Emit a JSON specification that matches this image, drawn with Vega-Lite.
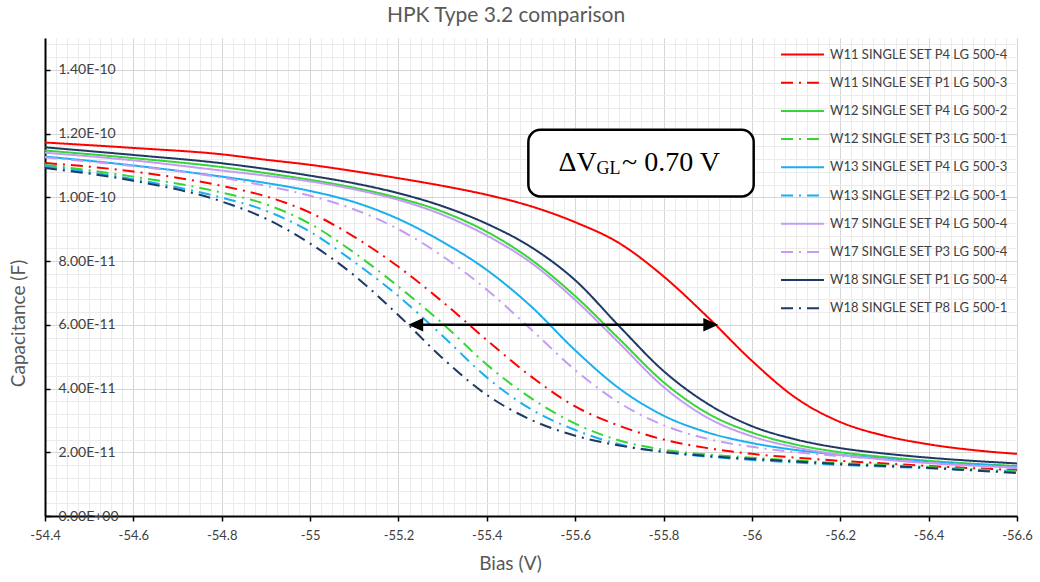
{
  "$schema": "https://vega.github.io/schema/vega-lite/v6.json",
  "width": 972,
  "height": 478,
  "autosize": {"type": "none"},
  "padding": {"left": 45, "top": 38, "right": 23, "bottom": 66},
  "background": "white",
  "title": {"text": "HPK Type 3.2 comparison", "font": "Lato", "fontSize": 21, "fontWeight": "normal", "color": "#595959", "anchor": "middle", "dx": -25, "offset": -5, "baseline": "alphabetic"},
  "config": {
    "view": {"stroke": null},
    "legend": {"orient": "none", "legendX": 743, "legendY": 2, "title": null, "padding": 0, "symbolType": "M-1.635,0H1.635", "symbolSize": 692, "symbolStrokeWidth": 2, "labelFont": "Lato", "labelFontSize": 13, "labelColor": "#404040", "labelOffset": 13, "labelLimit": 300, "rowPadding": 6.2}
  },
  "datasets": {
    "curves": [
      {"s": "W11 SINGLE SET P4 LG 500-4", "v": -54.4, "c": 11.72e-11},
      {"s": "W11 SINGLE SET P4 LG 500-4", "v": -54.6, "c": 11.55e-11},
      {"s": "W11 SINGLE SET P4 LG 500-4", "v": -54.8, "c": 11.35e-11},
      {"s": "W11 SINGLE SET P4 LG 500-4", "v": -54.9, "c": 11.18e-11},
      {"s": "W11 SINGLE SET P4 LG 500-4", "v": -55.0, "c": 11.02e-11},
      {"s": "W11 SINGLE SET P4 LG 500-4", "v": -55.1, "c": 10.82e-11},
      {"s": "W11 SINGLE SET P4 LG 500-4", "v": -55.2, "c": 10.60e-11},
      {"s": "W11 SINGLE SET P4 LG 500-4", "v": -55.3, "c": 10.36e-11},
      {"s": "W11 SINGLE SET P4 LG 500-4", "v": -55.4, "c": 10.08e-11},
      {"s": "W11 SINGLE SET P4 LG 500-4", "v": -55.5, "c": 9.72e-11},
      {"s": "W11 SINGLE SET P4 LG 500-4", "v": -55.6, "c": 9.22e-11},
      {"s": "W11 SINGLE SET P4 LG 500-4", "v": -55.7, "c": 8.56e-11},
      {"s": "W11 SINGLE SET P4 LG 500-4", "v": -55.8, "c": 7.52e-11},
      {"s": "W11 SINGLE SET P4 LG 500-4", "v": -55.9, "c": 6.24e-11},
      {"s": "W11 SINGLE SET P4 LG 500-4", "v": -56.0, "c": 4.87e-11},
      {"s": "W11 SINGLE SET P4 LG 500-4", "v": -56.1, "c": 3.70e-11},
      {"s": "W11 SINGLE SET P4 LG 500-4", "v": -56.2, "c": 2.95e-11},
      {"s": "W11 SINGLE SET P4 LG 500-4", "v": -56.3, "c": 2.52e-11},
      {"s": "W11 SINGLE SET P4 LG 500-4", "v": -56.4, "c": 2.25e-11},
      {"s": "W11 SINGLE SET P4 LG 500-4", "v": -56.5, "c": 2.07e-11},
      {"s": "W11 SINGLE SET P4 LG 500-4", "v": -56.6, "c": 1.95e-11},

      {"s": "W11 SINGLE SET P1 LG 500-3", "v": -54.4, "c": 11.08e-11},
      {"s": "W11 SINGLE SET P1 LG 500-3", "v": -54.6, "c": 10.81e-11},
      {"s": "W11 SINGLE SET P1 LG 500-3", "v": -54.8, "c": 10.36e-11},
      {"s": "W11 SINGLE SET P1 LG 500-3", "v": -54.9, "c": 10.03e-11},
      {"s": "W11 SINGLE SET P1 LG 500-3", "v": -55.0, "c": 9.52e-11},
      {"s": "W11 SINGLE SET P1 LG 500-3", "v": -55.1, "c": 8.76e-11},
      {"s": "W11 SINGLE SET P1 LG 500-3", "v": -55.2, "c": 7.82e-11},
      {"s": "W11 SINGLE SET P1 LG 500-3", "v": -55.3, "c": 6.72e-11},
      {"s": "W11 SINGLE SET P1 LG 500-3", "v": -55.4, "c": 5.52e-11},
      {"s": "W11 SINGLE SET P1 LG 500-3", "v": -55.5, "c": 4.38e-11},
      {"s": "W11 SINGLE SET P1 LG 500-3", "v": -55.6, "c": 3.44e-11},
      {"s": "W11 SINGLE SET P1 LG 500-3", "v": -55.7, "c": 2.83e-11},
      {"s": "W11 SINGLE SET P1 LG 500-3", "v": -55.8, "c": 2.40e-11},
      {"s": "W11 SINGLE SET P1 LG 500-3", "v": -55.9, "c": 2.13e-11},
      {"s": "W11 SINGLE SET P1 LG 500-3", "v": -56.0, "c": 1.95e-11},
      {"s": "W11 SINGLE SET P1 LG 500-3", "v": -56.1, "c": 1.83e-11},
      {"s": "W11 SINGLE SET P1 LG 500-3", "v": -56.2, "c": 1.73e-11},
      {"s": "W11 SINGLE SET P1 LG 500-3", "v": -56.3, "c": 1.65e-11},
      {"s": "W11 SINGLE SET P1 LG 500-3", "v": -56.4, "c": 1.57e-11},
      {"s": "W11 SINGLE SET P1 LG 500-3", "v": -56.5, "c": 1.50e-11},
      {"s": "W11 SINGLE SET P1 LG 500-3", "v": -56.6, "c": 1.44e-11},

      {"s": "W12 SINGLE SET P4 LG 500-2", "v": -54.4, "c": 11.47e-11},
      {"s": "W12 SINGLE SET P4 LG 500-2", "v": -54.6, "c": 11.23e-11},
      {"s": "W12 SINGLE SET P4 LG 500-2", "v": -54.8, "c": 10.95e-11},
      {"s": "W12 SINGLE SET P4 LG 500-2", "v": -54.9, "c": 10.76e-11},
      {"s": "W12 SINGLE SET P4 LG 500-2", "v": -55.0, "c": 10.55e-11},
      {"s": "W12 SINGLE SET P4 LG 500-2", "v": -55.1, "c": 10.30e-11},
      {"s": "W12 SINGLE SET P4 LG 500-2", "v": -55.2, "c": 9.98e-11},
      {"s": "W12 SINGLE SET P4 LG 500-2", "v": -55.3, "c": 9.55e-11},
      {"s": "W12 SINGLE SET P4 LG 500-2", "v": -55.4, "c": 8.92e-11},
      {"s": "W12 SINGLE SET P4 LG 500-2", "v": -55.5, "c": 8.05e-11},
      {"s": "W12 SINGLE SET P4 LG 500-2", "v": -55.6, "c": 6.90e-11},
      {"s": "W12 SINGLE SET P4 LG 500-2", "v": -55.7, "c": 5.55e-11},
      {"s": "W12 SINGLE SET P4 LG 500-2", "v": -55.8, "c": 4.20e-11},
      {"s": "W12 SINGLE SET P4 LG 500-2", "v": -55.9, "c": 3.22e-11},
      {"s": "W12 SINGLE SET P4 LG 500-2", "v": -56.0, "c": 2.62e-11},
      {"s": "W12 SINGLE SET P4 LG 500-2", "v": -56.1, "c": 2.24e-11},
      {"s": "W12 SINGLE SET P4 LG 500-2", "v": -56.2, "c": 2.00e-11},
      {"s": "W12 SINGLE SET P4 LG 500-2", "v": -56.3, "c": 1.85e-11},
      {"s": "W12 SINGLE SET P4 LG 500-2", "v": -56.4, "c": 1.73e-11},
      {"s": "W12 SINGLE SET P4 LG 500-2", "v": -56.5, "c": 1.64e-11},
      {"s": "W12 SINGLE SET P4 LG 500-2", "v": -56.6, "c": 1.57e-11},

      {"s": "W12 SINGLE SET P3 LG 500-1", "v": -54.4, "c": 11.02e-11},
      {"s": "W12 SINGLE SET P3 LG 500-1", "v": -54.6, "c": 10.65e-11},
      {"s": "W12 SINGLE SET P3 LG 500-1", "v": -54.8, "c": 10.15e-11},
      {"s": "W12 SINGLE SET P3 LG 500-1", "v": -54.9, "c": 9.78e-11},
      {"s": "W12 SINGLE SET P3 LG 500-1", "v": -55.0, "c": 9.17e-11},
      {"s": "W12 SINGLE SET P3 LG 500-1", "v": -55.1, "c": 8.26e-11},
      {"s": "W12 SINGLE SET P3 LG 500-1", "v": -55.2, "c": 7.20e-11},
      {"s": "W12 SINGLE SET P3 LG 500-1", "v": -55.3, "c": 6.04e-11},
      {"s": "W12 SINGLE SET P3 LG 500-1", "v": -55.4, "c": 4.75e-11},
      {"s": "W12 SINGLE SET P3 LG 500-1", "v": -55.5, "c": 3.70e-11},
      {"s": "W12 SINGLE SET P3 LG 500-1", "v": -55.6, "c": 2.90e-11},
      {"s": "W12 SINGLE SET P3 LG 500-1", "v": -55.7, "c": 2.37e-11},
      {"s": "W12 SINGLE SET P3 LG 500-1", "v": -55.8, "c": 2.08e-11},
      {"s": "W12 SINGLE SET P3 LG 500-1", "v": -55.9, "c": 1.93e-11},
      {"s": "W12 SINGLE SET P3 LG 500-1", "v": -56.0, "c": 1.83e-11},
      {"s": "W12 SINGLE SET P3 LG 500-1", "v": -56.1, "c": 1.74e-11},
      {"s": "W12 SINGLE SET P3 LG 500-1", "v": -56.2, "c": 1.66e-11},
      {"s": "W12 SINGLE SET P3 LG 500-1", "v": -56.3, "c": 1.60e-11},
      {"s": "W12 SINGLE SET P3 LG 500-1", "v": -56.4, "c": 1.54e-11},
      {"s": "W12 SINGLE SET P3 LG 500-1", "v": -56.5, "c": 1.47e-11},
      {"s": "W12 SINGLE SET P3 LG 500-1", "v": -56.6, "c": 1.41e-11},

      {"s": "W13 SINGLE SET P4 LG 500-3", "v": -54.4, "c": 11.28e-11},
      {"s": "W13 SINGLE SET P4 LG 500-3", "v": -54.6, "c": 11.00e-11},
      {"s": "W13 SINGLE SET P4 LG 500-3", "v": -54.8, "c": 10.65e-11},
      {"s": "W13 SINGLE SET P4 LG 500-3", "v": -54.9, "c": 10.45e-11},
      {"s": "W13 SINGLE SET P4 LG 500-3", "v": -55.0, "c": 10.20e-11},
      {"s": "W13 SINGLE SET P4 LG 500-3", "v": -55.1, "c": 9.85e-11},
      {"s": "W13 SINGLE SET P4 LG 500-3", "v": -55.2, "c": 9.32e-11},
      {"s": "W13 SINGLE SET P4 LG 500-3", "v": -55.3, "c": 8.60e-11},
      {"s": "W13 SINGLE SET P4 LG 500-3", "v": -55.4, "c": 7.72e-11},
      {"s": "W13 SINGLE SET P4 LG 500-3", "v": -55.5, "c": 6.58e-11},
      {"s": "W13 SINGLE SET P4 LG 500-3", "v": -55.6, "c": 5.20e-11},
      {"s": "W13 SINGLE SET P4 LG 500-3", "v": -55.7, "c": 4.00e-11},
      {"s": "W13 SINGLE SET P4 LG 500-3", "v": -55.8, "c": 3.15e-11},
      {"s": "W13 SINGLE SET P4 LG 500-3", "v": -55.9, "c": 2.62e-11},
      {"s": "W13 SINGLE SET P4 LG 500-3", "v": -56.0, "c": 2.29e-11},
      {"s": "W13 SINGLE SET P4 LG 500-3", "v": -56.1, "c": 2.07e-11},
      {"s": "W13 SINGLE SET P4 LG 500-3", "v": -56.2, "c": 1.92e-11},
      {"s": "W13 SINGLE SET P4 LG 500-3", "v": -56.3, "c": 1.80e-11},
      {"s": "W13 SINGLE SET P4 LG 500-3", "v": -56.4, "c": 1.70e-11},
      {"s": "W13 SINGLE SET P4 LG 500-3", "v": -56.5, "c": 1.62e-11},
      {"s": "W13 SINGLE SET P4 LG 500-3", "v": -56.6, "c": 1.55e-11},

      {"s": "W13 SINGLE SET P2 LG 500-1", "v": -54.4, "c": 10.97e-11},
      {"s": "W13 SINGLE SET P2 LG 500-1", "v": -54.6, "c": 10.57e-11},
      {"s": "W13 SINGLE SET P2 LG 500-1", "v": -54.8, "c": 9.99e-11},
      {"s": "W13 SINGLE SET P2 LG 500-1", "v": -54.9, "c": 9.58e-11},
      {"s": "W13 SINGLE SET P2 LG 500-1", "v": -55.0, "c": 8.92e-11},
      {"s": "W13 SINGLE SET P2 LG 500-1", "v": -55.1, "c": 7.97e-11},
      {"s": "W13 SINGLE SET P2 LG 500-1", "v": -55.2, "c": 6.90e-11},
      {"s": "W13 SINGLE SET P2 LG 500-1", "v": -55.3, "c": 5.65e-11},
      {"s": "W13 SINGLE SET P2 LG 500-1", "v": -55.4, "c": 4.35e-11},
      {"s": "W13 SINGLE SET P2 LG 500-1", "v": -55.5, "c": 3.35e-11},
      {"s": "W13 SINGLE SET P2 LG 500-1", "v": -55.6, "c": 2.70e-11},
      {"s": "W13 SINGLE SET P2 LG 500-1", "v": -55.7, "c": 2.25e-11},
      {"s": "W13 SINGLE SET P2 LG 500-1", "v": -55.8, "c": 2.01e-11},
      {"s": "W13 SINGLE SET P2 LG 500-1", "v": -55.9, "c": 1.86e-11},
      {"s": "W13 SINGLE SET P2 LG 500-1", "v": -56.0, "c": 1.76e-11},
      {"s": "W13 SINGLE SET P2 LG 500-1", "v": -56.1, "c": 1.68e-11},
      {"s": "W13 SINGLE SET P2 LG 500-1", "v": -56.2, "c": 1.60e-11},
      {"s": "W13 SINGLE SET P2 LG 500-1", "v": -56.3, "c": 1.55e-11},
      {"s": "W13 SINGLE SET P2 LG 500-1", "v": -56.4, "c": 1.50e-11},
      {"s": "W13 SINGLE SET P2 LG 500-1", "v": -56.5, "c": 1.44e-11},
      {"s": "W13 SINGLE SET P2 LG 500-1", "v": -56.6, "c": 1.38e-11},

      {"s": "W17 SINGLE SET P4 LG 500-4", "v": -54.4, "c": 11.40e-11},
      {"s": "W17 SINGLE SET P4 LG 500-4", "v": -54.6, "c": 11.16e-11},
      {"s": "W17 SINGLE SET P4 LG 500-4", "v": -54.8, "c": 10.84e-11},
      {"s": "W17 SINGLE SET P4 LG 500-4", "v": -54.9, "c": 10.68e-11},
      {"s": "W17 SINGLE SET P4 LG 500-4", "v": -55.0, "c": 10.50e-11},
      {"s": "W17 SINGLE SET P4 LG 500-4", "v": -55.1, "c": 10.25e-11},
      {"s": "W17 SINGLE SET P4 LG 500-4", "v": -55.2, "c": 9.92e-11},
      {"s": "W17 SINGLE SET P4 LG 500-4", "v": -55.3, "c": 9.45e-11},
      {"s": "W17 SINGLE SET P4 LG 500-4", "v": -55.4, "c": 8.80e-11},
      {"s": "W17 SINGLE SET P4 LG 500-4", "v": -55.5, "c": 7.95e-11},
      {"s": "W17 SINGLE SET P4 LG 500-4", "v": -55.6, "c": 6.78e-11},
      {"s": "W17 SINGLE SET P4 LG 500-4", "v": -55.7, "c": 5.42e-11},
      {"s": "W17 SINGLE SET P4 LG 500-4", "v": -55.8, "c": 4.05e-11},
      {"s": "W17 SINGLE SET P4 LG 500-4", "v": -55.9, "c": 3.08e-11},
      {"s": "W17 SINGLE SET P4 LG 500-4", "v": -56.0, "c": 2.50e-11},
      {"s": "W17 SINGLE SET P4 LG 500-4", "v": -56.1, "c": 2.15e-11},
      {"s": "W17 SINGLE SET P4 LG 500-4", "v": -56.2, "c": 1.92e-11},
      {"s": "W17 SINGLE SET P4 LG 500-4", "v": -56.3, "c": 1.77e-11},
      {"s": "W17 SINGLE SET P4 LG 500-4", "v": -56.4, "c": 1.66e-11},
      {"s": "W17 SINGLE SET P4 LG 500-4", "v": -56.5, "c": 1.58e-11},
      {"s": "W17 SINGLE SET P4 LG 500-4", "v": -56.6, "c": 1.52e-11},

      {"s": "W17 SINGLE SET P3 LG 500-4", "v": -54.4, "c": 11.25e-11},
      {"s": "W17 SINGLE SET P3 LG 500-4", "v": -54.6, "c": 10.98e-11},
      {"s": "W17 SINGLE SET P3 LG 500-4", "v": -54.8, "c": 10.62e-11},
      {"s": "W17 SINGLE SET P3 LG 500-4", "v": -54.9, "c": 10.36e-11},
      {"s": "W17 SINGLE SET P3 LG 500-4", "v": -55.0, "c": 10.05e-11},
      {"s": "W17 SINGLE SET P3 LG 500-4", "v": -55.1, "c": 9.62e-11},
      {"s": "W17 SINGLE SET P3 LG 500-4", "v": -55.2, "c": 9.00e-11},
      {"s": "W17 SINGLE SET P3 LG 500-4", "v": -55.3, "c": 8.15e-11},
      {"s": "W17 SINGLE SET P3 LG 500-4", "v": -55.4, "c": 7.10e-11},
      {"s": "W17 SINGLE SET P3 LG 500-4", "v": -55.5, "c": 5.86e-11},
      {"s": "W17 SINGLE SET P3 LG 500-4", "v": -55.6, "c": 4.58e-11},
      {"s": "W17 SINGLE SET P3 LG 500-4", "v": -55.7, "c": 3.55e-11},
      {"s": "W17 SINGLE SET P3 LG 500-4", "v": -55.8, "c": 2.85e-11},
      {"s": "W17 SINGLE SET P3 LG 500-4", "v": -55.9, "c": 2.42e-11},
      {"s": "W17 SINGLE SET P3 LG 500-4", "v": -56.0, "c": 2.17e-11},
      {"s": "W17 SINGLE SET P3 LG 500-4", "v": -56.1, "c": 2.00e-11},
      {"s": "W17 SINGLE SET P3 LG 500-4", "v": -56.2, "c": 1.88e-11},
      {"s": "W17 SINGLE SET P3 LG 500-4", "v": -56.3, "c": 1.78e-11},
      {"s": "W17 SINGLE SET P3 LG 500-4", "v": -56.4, "c": 1.68e-11},
      {"s": "W17 SINGLE SET P3 LG 500-4", "v": -56.5, "c": 1.59e-11},
      {"s": "W17 SINGLE SET P3 LG 500-4", "v": -56.6, "c": 1.50e-11},

      {"s": "W18 SINGLE SET P1 LG 500-4", "v": -54.4, "c": 11.57e-11},
      {"s": "W18 SINGLE SET P1 LG 500-4", "v": -54.6, "c": 11.33e-11},
      {"s": "W18 SINGLE SET P1 LG 500-4", "v": -54.8, "c": 11.07e-11},
      {"s": "W18 SINGLE SET P1 LG 500-4", "v": -54.9, "c": 10.89e-11},
      {"s": "W18 SINGLE SET P1 LG 500-4", "v": -55.0, "c": 10.68e-11},
      {"s": "W18 SINGLE SET P1 LG 500-4", "v": -55.1, "c": 10.44e-11},
      {"s": "W18 SINGLE SET P1 LG 500-4", "v": -55.2, "c": 10.13e-11},
      {"s": "W18 SINGLE SET P1 LG 500-4", "v": -55.3, "c": 9.72e-11},
      {"s": "W18 SINGLE SET P1 LG 500-4", "v": -55.4, "c": 9.17e-11},
      {"s": "W18 SINGLE SET P1 LG 500-4", "v": -55.5, "c": 8.44e-11},
      {"s": "W18 SINGLE SET P1 LG 500-4", "v": -55.6, "c": 7.40e-11},
      {"s": "W18 SINGLE SET P1 LG 500-4", "v": -55.7, "c": 5.95e-11},
      {"s": "W18 SINGLE SET P1 LG 500-4", "v": -55.8, "c": 4.55e-11},
      {"s": "W18 SINGLE SET P1 LG 500-4", "v": -55.9, "c": 3.52e-11},
      {"s": "W18 SINGLE SET P1 LG 500-4", "v": -56.0, "c": 2.82e-11},
      {"s": "W18 SINGLE SET P1 LG 500-4", "v": -56.1, "c": 2.40e-11},
      {"s": "W18 SINGLE SET P1 LG 500-4", "v": -56.2, "c": 2.13e-11},
      {"s": "W18 SINGLE SET P1 LG 500-4", "v": -56.3, "c": 1.96e-11},
      {"s": "W18 SINGLE SET P1 LG 500-4", "v": -56.4, "c": 1.83e-11},
      {"s": "W18 SINGLE SET P1 LG 500-4", "v": -56.5, "c": 1.73e-11},
      {"s": "W18 SINGLE SET P1 LG 500-4", "v": -56.6, "c": 1.65e-11},

      {"s": "W18 SINGLE SET P8 LG 500-1", "v": -54.4, "c": 10.92e-11},
      {"s": "W18 SINGLE SET P8 LG 500-1", "v": -54.6, "c": 10.52e-11},
      {"s": "W18 SINGLE SET P8 LG 500-1", "v": -54.8, "c": 9.87e-11},
      {"s": "W18 SINGLE SET P8 LG 500-1", "v": -54.9, "c": 9.33e-11},
      {"s": "W18 SINGLE SET P8 LG 500-1", "v": -55.0, "c": 8.55e-11},
      {"s": "W18 SINGLE SET P8 LG 500-1", "v": -55.1, "c": 7.55e-11},
      {"s": "W18 SINGLE SET P8 LG 500-1", "v": -55.2, "c": 6.30e-11},
      {"s": "W18 SINGLE SET P8 LG 500-1", "v": -55.3, "c": 4.95e-11},
      {"s": "W18 SINGLE SET P8 LG 500-1", "v": -55.4, "c": 3.80e-11},
      {"s": "W18 SINGLE SET P8 LG 500-1", "v": -55.5, "c": 3.02e-11},
      {"s": "W18 SINGLE SET P8 LG 500-1", "v": -55.6, "c": 2.52e-11},
      {"s": "W18 SINGLE SET P8 LG 500-1", "v": -55.7, "c": 2.21e-11},
      {"s": "W18 SINGLE SET P8 LG 500-1", "v": -55.8, "c": 2.01e-11},
      {"s": "W18 SINGLE SET P8 LG 500-1", "v": -55.9, "c": 1.88e-11},
      {"s": "W18 SINGLE SET P8 LG 500-1", "v": -56.0, "c": 1.79e-11},
      {"s": "W18 SINGLE SET P8 LG 500-1", "v": -56.1, "c": 1.71e-11},
      {"s": "W18 SINGLE SET P8 LG 500-1", "v": -56.2, "c": 1.63e-11},
      {"s": "W18 SINGLE SET P8 LG 500-1", "v": -56.3, "c": 1.57e-11},
      {"s": "W18 SINGLE SET P8 LG 500-1", "v": -56.4, "c": 1.51e-11},
      {"s": "W18 SINGLE SET P8 LG 500-1", "v": -56.5, "c": 1.43e-11},
      {"s": "W18 SINGLE SET P8 LG 500-1", "v": -56.6, "c": 1.35e-11}
    ],
    "arrow": [{"x1": -55.23, "x2": -55.915, "y": 6.0e-11}],
    "headL": [{"x": -55.222, "y": 6.0e-11}],
    "headR": [{"x": -55.924, "y": 6.0e-11}],
    "box": [{"x1": -55.494, "x2": -56.004, "y1": 10.03e-11, "y2": 12.12e-11}],
    "bigText": [{"t": "ΔV", "x": -55.562, "y": 10.83e-11}, {"t": "~ 0.70 V", "x": -55.706, "y": 10.83e-11}],
    "subText": [{"t": "GL", "x": -55.648, "y": 10.74e-11}]
  },
  "layer": [
    {
      "data": {"name": "curves"},
      "mark": {"type": "line", "interpolate": "monotone", "strokeWidth": 2},
      "encoding": {
        "x": {"field": "v", "type": "quantitative",
          "scale": {"domain": [-56.6, -54.4], "reverse": true, "nice": false, "zero": false},
          "axis": {"orient": "top", "title": null, "labels": false, "ticks": false, "domain": false, "grid": true, "gridColor": "#ebebeb", "gridWidth": 1,
            "values": [-54.4, -54.425, -54.45, -54.475, -54.5, -54.525, -54.55, -54.575, -54.6, -54.625, -54.65, -54.675, -54.7, -54.725, -54.75, -54.775, -54.8, -54.825, -54.85, -54.875, -54.9, -54.925, -54.95, -54.975, -55, -55.025, -55.05, -55.075, -55.1, -55.125, -55.15, -55.175, -55.2, -55.225, -55.25, -55.275, -55.3, -55.325, -55.35, -55.375, -55.4, -55.425, -55.45, -55.475, -55.5, -55.525, -55.55, -55.575, -55.6, -55.625, -55.65, -55.675, -55.7, -55.725, -55.75, -55.775, -55.8, -55.825, -55.85, -55.875, -55.9, -55.925, -55.95, -55.975, -56, -56.025, -56.05, -56.075, -56.1, -56.125, -56.15, -56.175, -56.2, -56.225, -56.25, -56.275, -56.3, -56.325, -56.35, -56.375, -56.4, -56.425, -56.45, -56.475, -56.5, -56.525, -56.55, -56.575, -56.6]}},
        "y": {"field": "c", "type": "quantitative",
          "scale": {"domain": [0, 1.5e-10], "nice": false, "zero": false},
          "axis": {"orient": "right", "title": null, "labels": false, "ticks": false, "domain": false, "grid": true, "gridColor": "#ebebeb", "gridWidth": 1,
            "values": [0, 4e-12, 8e-12, 1.2e-11, 1.6e-11, 2e-11, 2.4e-11, 2.8e-11, 3.2e-11, 3.6e-11, 4e-11, 4.4e-11, 4.8e-11, 5.2e-11, 5.6e-11, 6e-11, 6.4e-11, 6.8e-11, 7.2e-11, 7.6e-11, 8e-11, 8.4e-11, 8.8e-11, 9.2e-11, 9.6e-11, 1e-10, 1.04e-10, 1.08e-10, 1.12e-10, 1.16e-10, 1.2e-10, 1.24e-10, 1.28e-10, 1.32e-10, 1.36e-10, 1.4e-10, 1.44e-10, 1.48e-10]}},
        "color": {"field": "s", "type": "nominal", "title": null,
          "scale": {"domain": ["W11 SINGLE SET P4 LG 500-4", "W11 SINGLE SET P1 LG 500-3", "W12 SINGLE SET P4 LG 500-2", "W12 SINGLE SET P3 LG 500-1", "W13 SINGLE SET P4 LG 500-3", "W13 SINGLE SET P2 LG 500-1", "W17 SINGLE SET P4 LG 500-4", "W17 SINGLE SET P3 LG 500-4", "W18 SINGLE SET P1 LG 500-4", "W18 SINGLE SET P8 LG 500-1"],
            "range": ["#ff0000", "#ff0000", "#33d633", "#33d633", "#1aaff0", "#1aaff0", "#c49cf5", "#c49cf5", "#203864", "#203864"]}},
        "strokeDash": {"field": "s", "type": "nominal", "title": null,
          "scale": {"domain": ["W11 SINGLE SET P4 LG 500-4", "W11 SINGLE SET P1 LG 500-3", "W12 SINGLE SET P4 LG 500-2", "W12 SINGLE SET P3 LG 500-1", "W13 SINGLE SET P4 LG 500-3", "W13 SINGLE SET P2 LG 500-1", "W17 SINGLE SET P4 LG 500-4", "W17 SINGLE SET P3 LG 500-4", "W18 SINGLE SET P1 LG 500-4", "W18 SINGLE SET P8 LG 500-1"],
            "range": [[1, 0], [12, 6, 2, 6], [1, 0], [12, 6, 2, 6], [1, 0], [12, 6, 2, 6], [1, 0], [12, 6, 2, 6], [1, 0], [12, 6, 2, 6]]}}
      }
    },
    {
      "data": {"name": "arrow"},
      "mark": {"type": "rule", "color": "black", "strokeWidth": 2.5},
      "encoding": {
        "x": {"field": "x1", "type": "quantitative",
          "axis": {"orient": "bottom", "values": [-54.4, -54.6, -54.8, -55, -55.2, -55.4, -55.6, -55.8, -56, -56.2, -56.4, -56.6], "grid": true, "gridColor": "#d6d6d6", "gridWidth": 1,
            "domain": true, "domainColor": "#000000", "domainWidth": 2, "ticks": true, "tickColor": "#000000", "tickSize": 5, "tickWidth": 1.5,
            "labelExpr": "'-' + format(abs(datum.value), '~g')", "labelFont": "Lato", "labelFontSize": 13, "labelColor": "#404040", "labelPadding": 8, "labelFlush": false, "labelOverlap": false,
            "title": "Bias (V)", "titleFont": "Lato", "titleFontSize": 19, "titleFontWeight": "normal", "titleColor": "#595959", "titleX": 465, "titleY": 47, "titleBaseline": "middle", "titleAlign": "center"}},
        "x2": {"field": "x2"},
        "y": {"field": "y", "type": "quantitative",
          "axis": {"orient": "left", "values": [0, 2e-11, 4e-11, 6e-11, 8e-11, 1e-10, 1.2e-10, 1.4e-10], "grid": true, "gridColor": "#d6d6d6", "gridWidth": 1,
            "domain": true, "domainColor": "#000000", "domainWidth": 2, "ticks": true, "tickColor": "#000000", "tickSize": -5, "tickWidth": 1.5,
            "labelExpr": "datum.value == 0 ? '0.00E+00' : replace(format(datum.value, '.2e'), 'e', 'E')", "labelAlign": "left", "labelBaseline": "middle", "labelPadding": -8,
            "labelFont": "Lato", "labelFontSize": 14, "labelColor": "#404040", "labelFlush": false, "labelOverlap": false,
            "title": "Capacitance (F)", "titleFont": "Lato", "titleFontSize": 19, "titleFontWeight": "normal", "titleColor": "#595959", "titleX": -27, "titleY": 285, "titleAngle": -90, "titleBaseline": "middle", "titleAlign": "center"}}
      }
    },
    {
      "data": {"name": "headL"},
      "mark": {"type": "point", "shape": "M0,0L2,-0.9L2,0.9Z", "filled": true, "color": "black", "opacity": 1, "size": 225, "strokeWidth": 0},
      "encoding": {"x": {"field": "x", "type": "quantitative", "axis": null}, "y": {"field": "y", "type": "quantitative", "axis": null}}
    },
    {
      "data": {"name": "headR"},
      "mark": {"type": "point", "shape": "M0,0L-2,-0.9L-2,0.9Z", "filled": true, "color": "black", "opacity": 1, "size": 225, "strokeWidth": 0},
      "encoding": {"x": {"field": "x", "type": "quantitative", "axis": null}, "y": {"field": "y", "type": "quantitative", "axis": null}}
    },
    {
      "data": {"name": "box"},
      "mark": {"type": "rect", "fill": "white", "stroke": "black", "strokeWidth": 2.5, "cornerRadius": 12},
      "encoding": {"x": {"field": "x1", "type": "quantitative", "axis": null}, "x2": {"field": "x2"}, "y": {"field": "y1", "type": "quantitative", "axis": null}, "y2": {"field": "y2"}}
    },
    {
      "data": {"name": "bigText"},
      "mark": {"type": "text", "font": "Liberation Serif", "fontSize": 28, "align": "left", "baseline": "alphabetic", "color": "black"},
      "encoding": {"x": {"field": "x", "type": "quantitative", "axis": null}, "y": {"field": "y", "type": "quantitative", "axis": null}, "text": {"field": "t"}}
    },
    {
      "data": {"name": "subText"},
      "mark": {"type": "text", "font": "Liberation Serif", "fontSize": 18, "align": "left", "baseline": "alphabetic", "color": "black"},
      "encoding": {"x": {"field": "x", "type": "quantitative", "axis": null}, "y": {"field": "y", "type": "quantitative", "axis": null}, "text": {"field": "t"}}
    }
  ],
  "resolve": {"axis": {"x": "independent", "y": "independent"}}
}
